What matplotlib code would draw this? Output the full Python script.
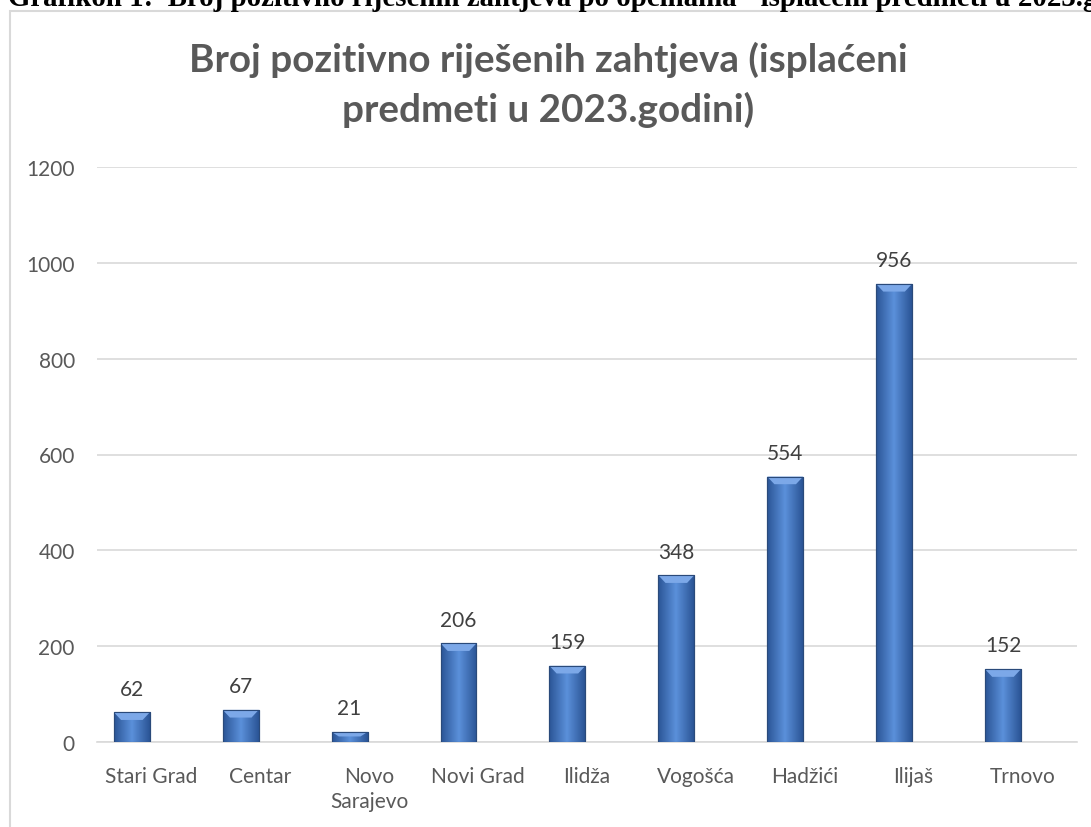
import numpy as np
import matplotlib.pyplot as plt
from matplotlib.patches import Rectangle, Polygon

# opcine i broj isplacenih predmeta
opcine = ['Stari Grad', 'Centar', 'Novo\nSarajevo', 'Novi Grad', 'Ilidža',
          'Vogošća', 'Hadžići', 'Ilijaš', 'Trnovo']
broj = [62, 67, 21, 206, 159, 348, 554, 956, 152]
y_ticks = [0, 200, 400, 600, 800, 1000, 1200]

naslov = ['Broj pozitivno riješenih zahtjeva (isplaćeni', 'predmeti u 2023.godini)']
zaglavlje = 'Grafikon 1:  Broj pozitivno riješenih zahtjeva po općinama - isplaćeni predmeti u 2023.godini'

plt.rcParams['font.family'] = ['Lato', 'DejaVu Sans']

W, H = 1091, 828
fig = plt.figure(figsize=(W / 100, H / 100), dpi=100)

# okvir grafikona
fig.patches.append(Rectangle((10 / W, -0.1), 1.2, (H - 12) / H + 0.1,
                             transform=fig.transFigure, fill=False,
                             edgecolor='#d9d9d9', linewidth=1.5))

# zaglavlje (odsjeceno na vrhu)
fig.text(8 / W, 1 - 6 / H, zaglavlje, fontsize=20.8, fontweight='bold',
         family='Liberation Serif', va='baseline', ha='left', color='black')

ax = fig.add_axes([97 / W, (H - 743) / H, (1077 - 97) / W, (743 - 168) / H])

x = np.arange(len(opcine))
w = 0.33
pomak = -0.18
bars = ax.bar(x + pomak, broj, width=w, color='#4472c4', edgecolor='#2f4f80',
              linewidth=0.8, zorder=2)

# gradijent na stupcima
grad = np.linspace(0, 1, 64)
grad = 1 - np.abs(grad - 0.5) * 2
cmap = plt.matplotlib.colors.LinearSegmentedColormap.from_list('b', ['#2b5596', '#5a8fd9'])
for b, v in zip(bars, broj):
    x0 = b.get_x()
    im = ax.imshow(grad[np.newaxis, :], extent=[x0, x0 + w, 0, v], aspect='auto',
                   cmap=cmap, zorder=3, origin='lower')
    im.set_clip_path(b)
    # kosa gornja ivica
    h = min(16, v * 0.45)
    ax.add_patch(Polygon([[x0, v], [x0 + w, v], [x0 + w * 0.8, v - h], [x0 + w * 0.2, v - h]],
                         closed=True, facecolor='#7ca8e8', edgecolor='none', zorder=4))
    ax.add_patch(Rectangle((x0, 0), w, v, fill=False, edgecolor='#2a4a7a', linewidth=0.8, zorder=5))
    ax.text(x0 + w / 2, v + 37, str(v), ha='center', va='baseline', fontsize=15, color='#404040')

ax.set_xlim(-0.5, len(opcine) - 0.5)
ax.set_ylim(0, 1200)
ax.set_yticks(y_ticks)
ax.set_xticks(x)
ax.set_xticklabels(opcine, fontsize=15, color='#595959', linespacing=1.35)
ax.tick_params(axis='y', labelsize=15, labelcolor='#595959', length=0, pad=16)
ax.tick_params(axis='x', length=0, pad=17)
ax.grid(axis='y', color='#d9d9d9', linewidth=1.2, zorder=0)
for s in ['top', 'right', 'left']:
    ax.spines[s].set_visible(False)
ax.spines['bottom'].set_color('#d9d9d9')
ax.spines['bottom'].set_linewidth(1.2)

# naslov, dva reda
for red, yb in zip(naslov, [72, 122]):
    fig.text(548 / W, 1 - yb / H, red, ha='center', va='baseline', fontsize=27.8,
             fontweight='bold', color='#595959')

fig.savefig('out.png', dpi=100)
